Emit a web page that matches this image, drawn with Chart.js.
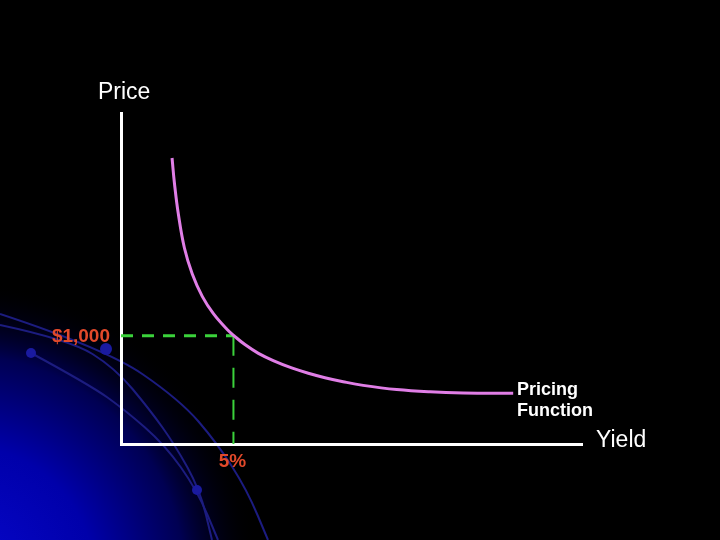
<!DOCTYPE html>
<html>
<head>
<meta charset="utf-8">
<title>Pricing Function</title>
<script src="https://cdn.jsdelivr.net/npm/chart.js@4/dist/chart.umd.min.js"></script>
<style>
    html, body { margin: 0; padding: 0; background: #000; }
    canvas { display: block; }
</style>
</head>
<body>
<canvas id="priceChart" width="720" height="540"></canvas>
<script>
// =========================
// DATA
// =========================
const yieldPct = [2.27, 2.38, 2.55, 2.82, 3.17, 3.62, 4.10, 4.70, 5.07, 5.51, 6.11, 6.85, 7.59, 8.33, 9.07, 9.88, 10.77, 12.26, 13.74, 15.22, 17.44];
const prices   = [2644, 2404, 2126, 1812, 1572, 1362, 1207, 1063, 993, 919, 838, 764, 703, 654, 613, 576, 542, 503, 482, 472, 469];

const markYield = 5;
const markPrice = 1000;

const axisNames = ['Yield', 'Price'];
const markLabels = ['5%', '$1,000'];
const curveLabel = ['Pricing', 'Function'];

const FONT = '"Liberation Sans", Arial, sans-serif';
const RED = '#e2492a';

document.addEventListener("DOMContentLoaded", function () {

    // =========================
    // BACKGROUND (glow + arcs)
    // =========================
    const backdrop = {
        id: 'backdrop',
        beforeDraw(chart) {
            const ctx = chart.ctx;
            ctx.save();
            ctx.fillStyle = '#000';
            ctx.fillRect(0, 0, chart.width, chart.height);

            const g = ctx.createRadialGradient(-40, 580, 0, -40, 580, 300);
            g.addColorStop(0, '#0808d0');
            g.addColorStop(0.45, '#0000aa');
            g.addColorStop(0.75, '#000052');
            g.addColorStop(1, 'rgba(0,0,0,0)');
            ctx.fillStyle = g;
            ctx.fillRect(0, 0, chart.width, chart.height);

            const arcs = [
                [[0, 314], [106, 349], [180, 400], [217, 443], [247, 490], [268, 540]],
                [[0, 325], [70, 340], [115, 368], [150, 410], [175, 445], [200, 490], [212, 540]],
                [[31, 353], [90, 385], [125, 410], [165, 445], [197, 490], [218, 540]]
            ];
            ctx.strokeStyle = '#1c1c80';
            ctx.lineWidth = 2;
            arcs.forEach(function (pts) {
                ctx.beginPath();
                ctx.moveTo(pts[0][0], pts[0][1]);
                for (let i = 1; i < pts.length - 1; i++) {
                    const mx = (pts[i][0] + pts[i + 1][0]) / 2;
                    const my = (pts[i][1] + pts[i + 1][1]) / 2;
                    ctx.quadraticCurveTo(pts[i][0], pts[i][1], mx, my);
                }
                const last = pts[pts.length - 1];
                ctx.lineTo(last[0], last[1]);
                ctx.stroke();
            });

            ctx.fillStyle = '#1a1aa0';
            [[106, 349, 6], [31, 353, 5], [197, 490, 5]].forEach(function (d) {
                ctx.beginPath();
                ctx.arc(d[0], d[1], d[2], 0, Math.PI * 2);
                ctx.fill();
            });
            ctx.restore();
        }
    };

    // =========================
    // LABELS
    // =========================
    const labels = {
        id: 'labels',
        afterDraw(chart) {
            const ctx = chart.ctx;
            const xs = chart.scales.x;
            const ys = chart.scales.y;
            ctx.save();
            ctx.textBaseline = 'alphabetic';

            ctx.fillStyle = '#fff';
            ctx.font = '23px ' + FONT;
            ctx.textAlign = 'left';
            ctx.fillText(axisNames[1], 98, 99);
            ctx.fillText(axisNames[0], 596, 447);

            ctx.font = 'bold 18px ' + FONT;
            ctx.fillText(curveLabel[0], 517, 395);
            ctx.fillText(curveLabel[1], 517, 416);

            ctx.fillStyle = RED;
            ctx.font = 'bold 19px ' + FONT;
            ctx.textAlign = 'right';
            ctx.fillText(markLabels[1], 110, ys.getPixelForValue(markPrice) + 6);
            ctx.textAlign = 'center';
            ctx.fillText(markLabels[0], xs.getPixelForValue(markYield) - 1, 467);
            ctx.restore();
        }
    };

    // =========================
    // CHART
    // =========================
    const canvas = document.getElementById("priceChart");

    new Chart(canvas, {
        type: 'scatter',
        data: {
            datasets: [
                {
                    label: 'Pricing Function',
                    data: yieldPct.map(function (v, i) { return { x: v, y: prices[i] }; }),
                    showLine: true,
                    borderColor: '#e07ee6',
                    borderWidth: 3,
                    pointRadius: 0,
                    tension: 0.4,
                    order: 1
                },
                {
                    label: 'par price',
                    data: [{ x: 0, y: markPrice }, { x: markYield, y: markPrice }],
                    showLine: true,
                    borderColor: '#3bd23b',
                    borderWidth: 3,
                    borderDash: [12, 9],
                    pointRadius: 0,
                    order: 2
                },
                {
                    label: 'par yield',
                    data: [{ x: markYield, y: markPrice }, { x: markYield, y: 0 }],
                    showLine: true,
                    borderColor: '#3bd23b',
                    borderWidth: 2,
                    borderDash: [20, 12],
                    pointRadius: 0,
                    order: 2
                }
            ]
        },
        options: {
            responsive: false,
            animation: false,
            layout: {
                padding: { left: 121, right: 138, top: 113, bottom: 96 }
            },
            plugins: {
                legend: { display: false },
                tooltip: { enabled: false }
            },
            scales: {
                x: {
                    type: 'linear',
                    min: 0,
                    max: 20.5,
                    grid: { display: false, drawTicks: false },
                    border: { display: true, color: '#fff', width: 3 },
                    ticks: { display: false }
                },
                y: {
                    type: 'linear',
                    min: 0,
                    max: 3060,
                    grid: { display: false, drawTicks: false },
                    border: { display: true, color: '#fff', width: 3 },
                    ticks: { display: false }
                }
            }
        },
        plugins: [backdrop, labels]
    });

});
</script>
</body>
</html>
